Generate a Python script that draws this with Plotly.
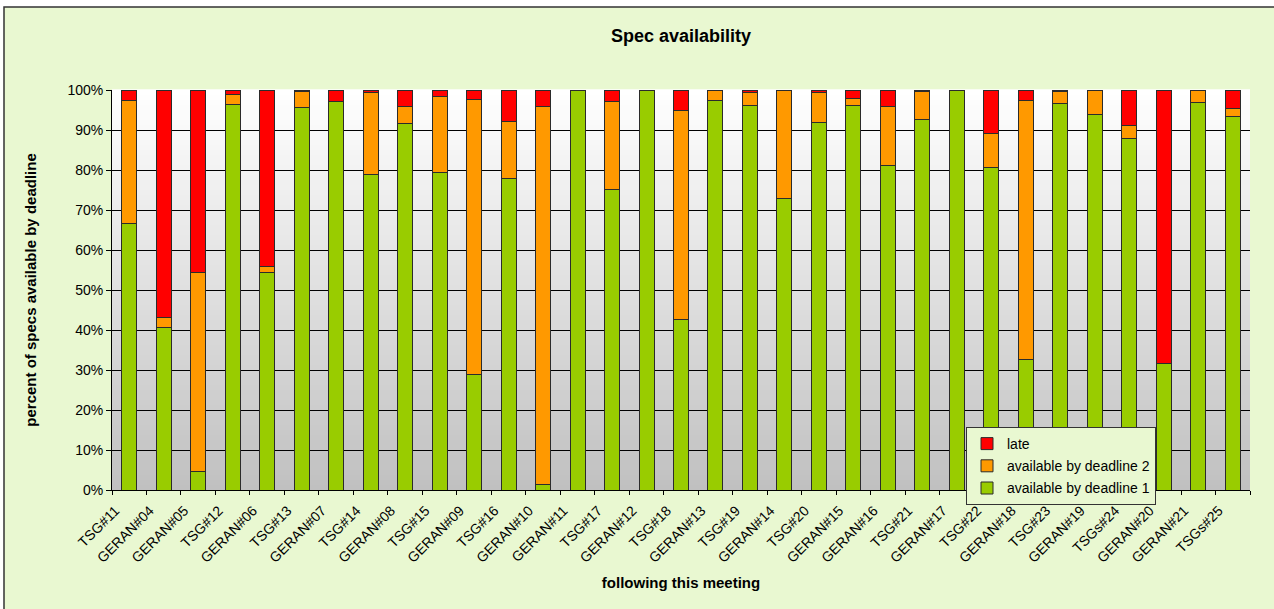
import plotly.graph_objects as go

# Meetings, in chronological order
meetings = ["TSG#11", "GERAN#04", "GERAN#05", "TSG#12", "GERAN#06", "TSG#13", "GERAN#07",
            "TSG#14", "GERAN#08", "TSG#15", "GERAN#09", "TSG#16", "GERAN#10", "GERAN#11",
            "TSG#17", "GERAN#12", "TSG#18", "GERAN#13", "TSG#19", "GERAN#14", "TSG#20",
            "GERAN#15", "GERAN#16", "TSG#21", "GERAN#17", "TSG#22", "GERAN#18", "TSG#23",
            "GERAN#19", "TSGs#24", "GERAN#20", "GERAN#21", "TSGs#25"]

# Share of specs (%) per meeting
deadline1 = [66.6, 40.6, 4.7, 96.3, 54.5, 95.7, 97.1, 78.9, 91.7, 79.4, 29.0, 78.0, 1.4, 100.0,
             75.2, 100.0, 42.7, 97.4, 96.2, 72.8, 91.9, 96.2, 81.1, 92.7, 100.0, 80.6, 32.6,
             96.6, 94.0, 87.9, 31.6, 96.9, 93.3]
deadline2 = [30.7, 2.6, 49.8, 2.5, 1.5, 4.0, 0.0, 20.5, 4.3, 18.9, 68.7, 14.2, 94.6, 0.0,
             21.9, 0.0, 52.1, 2.6, 3.2, 27.2, 7.5, 1.7, 14.8, 7.0, 0.0, 8.5, 64.8,
             3.1, 6.0, 3.2, 0.0, 3.1, 2.1]
late = [2.7, 56.8, 45.5, 1.2, 44.0, 0.3, 2.9, 0.6, 4.0, 1.7, 2.3, 7.8, 4.0, 0.0,
        2.9, 0.0, 5.2, 0.0, 0.6, 0.0, 0.6, 2.1, 4.1, 0.3, 0.0, 10.9, 2.6,
        0.3, 0.0, 8.9, 68.4, 0.0, 4.6]

y_ticks = list(range(0, 101, 10))
y_ticklabels = [f"{v}%" for v in y_ticks]

FONT = "Liberation Sans, Arial, sans-serif"
FRAME_BG = "#e9f8d1"
OUTLINE = "#2b2b2b"

fig = go.Figure()
# stacked bottom to top; legend lists them top to bottom
series = [
    ("available by deadline 1", deadline1, "#99cc00", 3),
    ("available by deadline 2", deadline2, "#ff9900", 2),
    ("late", late, "#ff0000", 1),
]
for name, vals, color, rank in series:
    fig.add_trace(go.Bar(
        x=meetings, y=vals, name=name, legendgroup=name, legendrank=rank,
        marker=dict(color=color, line=dict(color=OUTLINE, width=1)),
    ))

# plot geometry in pixels
W, H = 1274, 609
L, R, T, B = 112, 24, 90, 119
pw, ph = W - L - R, H - T - B

def px_x(p):
    return (p - L) / pw

def px_y(p):
    return (H - B - p) / ph

shapes = []
# outer chart frame
shapes.append(dict(type="rect", xref="paper", yref="paper", layer="below",
                   x0=px_x(4), x1=px_x(W + 10), y0=px_y(H + 10), y1=px_y(7),
                   fillcolor=FRAME_BG, line=dict(color="#333333", width=1.5)))
# vertical grey-to-white background gradient of the plot area
n = 80
for i in range(n):
    t = (i + 0.5) / n
    g = int(round(0xc0 + (0xff - 0xc0) * t))
    shapes.append(dict(type="rect", xref="paper", yref="paper", layer="below",
                       x0=0, x1=1, y0=i / n, y1=(i + 1) / n + 0.002,
                       fillcolor=f"rgb({g},{g},{g})", line=dict(width=0)))

fig.update_layout(
    width=W, height=H,
    margin=dict(l=L, r=R, t=T, b=B),
    paper_bgcolor="white",
    plot_bgcolor="rgba(0,0,0,0)",
    barmode="stack",
    bargap=0.565,
    shapes=shapes,
    font=dict(family=FONT, size=14, color="black"),
    title=dict(text="<b>Spec availability</b>", x=0.5, xref="paper", xanchor="center",
               y=1 - 36 / H, yanchor="middle", font=dict(size=18, color="black")),
    xaxis=dict(
        title=dict(text="<b>following this meeting</b>", font=dict(size=15), standoff=12),
        tickangle=-45, tickson="boundaries", ticks="outside", ticklen=4,
        tickcolor="black", showline=True, linecolor="black", linewidth=1,
        showgrid=False, tickfont=dict(size=14), automargin=False,
        ticklabelshift=-14, ticklabelstandoff=6,
    ),
    yaxis=dict(
        title=dict(text="<b>percent of specs available by deadline</b>", font=dict(size=15),
                   standoff=27),
        range=[0, 100], tickvals=y_ticks, ticktext=y_ticklabels,
        ticks="outside", ticklen=5, tickcolor="black",
        showline=True, linecolor="black", linewidth=1,
        showgrid=True, gridcolor="black", gridwidth=1, zeroline=False,
        tickfont=dict(size=14), automargin=False,
    ),
    legend=dict(
        x=px_x(966), y=px_y(427), xanchor="left", yanchor="top",
        bgcolor=FRAME_BG, bordercolor="#333333", borderwidth=1,
        font=dict(size=14), traceorder="grouped", tracegroupgap=1,
        itemwidth=30,
    ),
)

fig.write_html("out.html")
